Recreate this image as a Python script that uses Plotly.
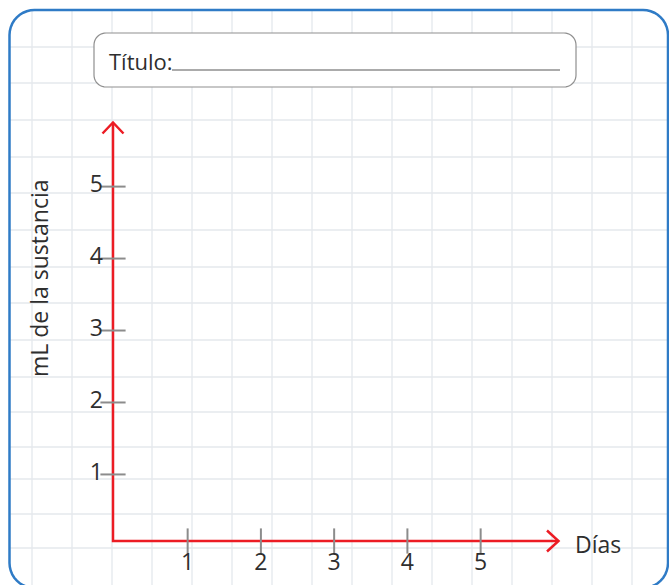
import math
import plotly.graph_objects as go

# data
x_vals = [1, 2, 3, 4, 5]
x_labels = ["1", "2", "3", "4", "5"]
y_vals = [1, 2, 3, 4, 5]
y_labels = ["1", "2", "3", "4", "5"]
x_title = "Días"
y_title = "mL de la sustancia"
box_title = "Título:"

W, H = 669, 585
FONT = "Open Sans"
TXT = "#2e2e2e"
RED = "#ec1c24"
GRAY = "#8c8c8c"
GRID = "#e4e8ed"
BLUE = "#2f7bc6"

# pixel calibration of the value axes (origin and size of one unit)
x0_px, x_unit = 114.4, 73.25
y0_px, y_unit = 546.4, 71.96
axis_x_px, axis_y_px = 113, 541


def px_to_x(p):
    return (p - x0_px) / x_unit


def px_to_y(p):
    return (y0_px - p) / y_unit


def px(x):
    return x / W


def py(y):
    return 1 - y / H


fig = go.Figure()

# tick marks crossing the axes
fig.add_trace(go.Scatter(
    x=x_vals, y=[px_to_y(axis_y_px)] * len(x_vals),
    mode="markers", hoverinfo="skip",
    marker=dict(symbol="line-ns", size=18, line=dict(color=GRAY, width=2))
))
fig.add_trace(go.Scatter(
    x=[px_to_x(axis_x_px)] * len(y_vals), y=y_vals,
    mode="markers", hoverinfo="skip",
    marker=dict(symbol="line-ew", size=18, line=dict(color=GRAY, width=2))
))
# tick labels
fig.add_trace(go.Scatter(
    x=x_vals, y=[px_to_y(564)] * len(x_vals),
    mode="text", text=x_labels, textposition="middle center", hoverinfo="skip",
    textfont=dict(family=FONT, size=23, color=TXT)
))
fig.add_trace(go.Scatter(
    x=[px_to_x(103)] * len(y_vals), y=y_vals,
    mode="text", text=y_labels, textposition="middle left", hoverinfo="skip",
    textfont=dict(family=FONT, size=23, color=TXT)
))


def line(x0, y0, x1, y1, color, width):
    return dict(type="line", xref="paper", yref="paper",
                x0=px(x0), x1=px(x1), y0=py(y0), y1=py(y1),
                line=dict(color=color, width=width), layer="below")


def path(points, color, width, closed=False, fill=None):
    d = "M " + " L ".join(f"{px(a):.5f},{py(b):.5f}" for a, b in points)
    if closed:
        d += " Z"
    s = dict(type="path", xref="paper", yref="paper", path=d,
             line=dict(color=color, width=width), layer="below")
    if fill:
        s["fillcolor"] = fill
    return s


def rounded(L, T, R, B, r):
    pts = []
    corners = [(R - r, T + r, -90), (R - r, B - r, 0), (L + r, B - r, 90), (L + r, T + r, 180)]
    for cx, cy, a0 in corners:
        for i in range(11):
            a = math.radians(a0 + 9 * i)
            pts.append((cx + r * math.cos(a), cy + r * math.sin(a)))
    return pts


shapes = []
# grid
grid_x = [32 + 40 * k for k in range(16)]
grid_y = [47, 83, 120, 157, 193, 230, 267, 303, 340, 377, 412, 447, 479, 514, 548]
for gx in grid_x:
    shapes.append(line(gx, 10, gx, 585, GRID, 1.3))
for gy in grid_y:
    shapes.append(line(10, gy, 668, gy, GRID, 1.3))

# outer rounded frame
shapes.append(path(rounded(9.5, 10, 668, 588, 25), BLUE, 2.5, closed=True))

# title box and its writing line
shapes.append(path(rounded(94, 33, 576, 87, 12), "#8f8f8f", 1.2, closed=True, fill="white"))
shapes.append(line(172, 70, 560, 70, "#8f8f8f", 1.5))

# red axes with open arrow heads
shapes.append(path([(axis_x_px, 123), (axis_x_px, axis_y_px), (558, axis_y_px)], RED, 2.5))
shapes.append(path([(102.5, 133.5), (113, 122.5), (123.5, 133.5)], RED, 2.5))
shapes.append(path([(547, 530.5), (558.5, 541), (547, 551.5)], RED, 2.5))

annotations = [
    dict(x=px(107), y=py(61), xref="paper", yref="paper", text=box_title, showarrow=False,
         xanchor="left", yanchor="middle", font=dict(family=FONT, size=22, color=TXT)),
    dict(x=px(573), y=py(544), xref="paper", yref="paper", text=x_title, showarrow=False,
         xanchor="left", yanchor="middle", font=dict(family=FONT, size=23, color=TXT)),
    dict(x=px(39), y=py(278), xref="paper", yref="paper", text=y_title, showarrow=False,
         textangle=-90, xanchor="center", yanchor="middle",
         font=dict(family=FONT, size=23, color=TXT)),
]

fig.update_layout(
    width=W, height=H,
    margin=dict(l=0, r=0, t=0, b=0),
    paper_bgcolor="white", plot_bgcolor="rgba(0,0,0,0)",
    showlegend=False,
    shapes=shapes, annotations=annotations,
    xaxis=dict(domain=[0, 1], visible=False, fixedrange=True,
               range=[px_to_x(0), px_to_x(W)]),
    yaxis=dict(domain=[0, 1], visible=False, fixedrange=True,
               range=[px_to_y(H), px_to_y(0)]),
)

fig.write_html("out.html", config={"displayModeBar": False},
               post_script="document.body.style.margin='0';")
